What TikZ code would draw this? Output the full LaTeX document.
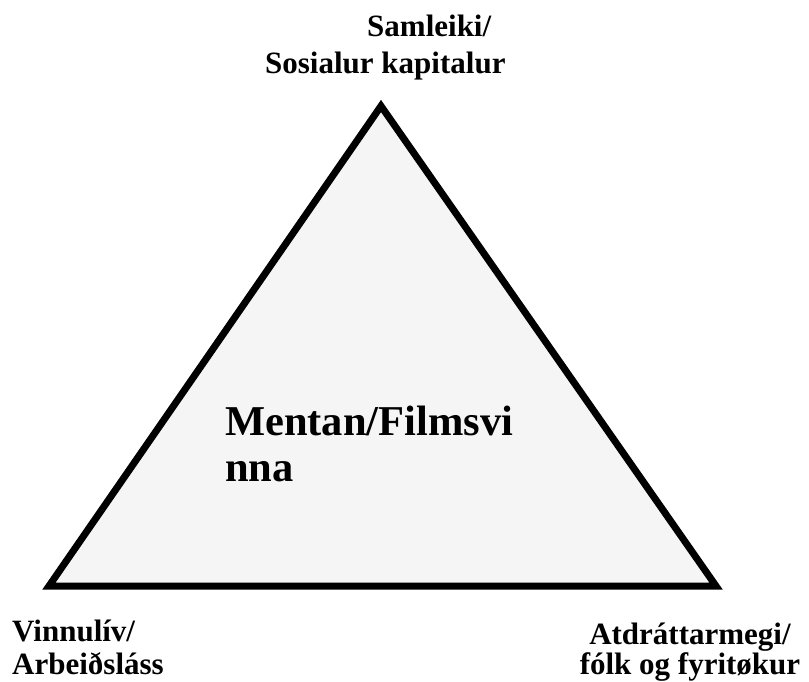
\documentclass[tikz,border=0pt]{standalone}
\usepackage{fontspec}
\setmainfont{Liberation Serif}
\usetikzlibrary{positioning}

\begin{document}
\begin{tikzpicture}[x=1pt,y=-1pt,
			corner/.style = {
				font=\fontsize{31}{33}\selectfont\bfseries,
				inner sep=0pt
			},
			middle/.style = {
				font=\fontsize{42.5}{46}\selectfont\bfseries,
				inner sep=0pt, align=left
			}]
			\useasboundingbox (0,0) rectangle (809,682);
			\coordinate (apex) at (381,106);
			\coordinate (bl) at (49,586);
			\coordinate (br) at (716,586);
			\draw [line width=7pt, fill=black!4, line join=miter]
			(apex) -- (bl) -- (br) -- cycle;
			\node (soc) [corner, align=left, anchor=base west,
			font=\fontsize{31}{37}\selectfont\bfseries]
			at (265,74) {\hspace*{102pt}Samleiki/\\Sosialur kapitalur};
			\node (work) [corner, align=left, anchor=base west] at (12,674) {Vinnulív/\\Arbeiðsláss};
			\node (draw) [corner, align=center, anchor=base,
			font=\fontsize{31}{28}\selectfont\bfseries]
			at (690,674) {Atdráttarmegi/\\fólk og fyritøkur};
			\node (edu) [middle, anchor=base west] at (225,481) {Mentan/Filmsvi\\nna};
		\end{tikzpicture}
\end{document}
